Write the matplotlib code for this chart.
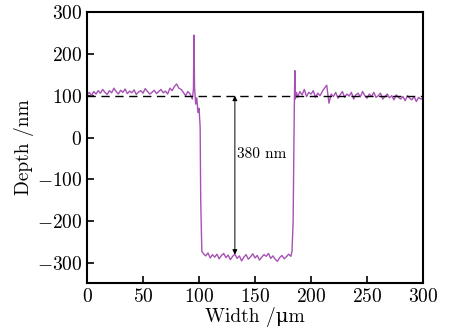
import numpy as np
import matplotlib.pyplot as plt

plt.rcParams['font.family'] = ['cmr10', 'DejaVu Serif']
plt.rcParams['mathtext.fontset'] = 'cm'
plt.rcParams['axes.formatter.use_mathtext'] = True

# left plateau, 0..92 um every 2 um
x_left = list(range(0, 93, 2))
y_left = [102, 108, 100, 110, 104, 112, 106, 115, 108, 103, 112, 107, 118, 110,
          104, 113, 108, 116, 105, 111, 107, 114, 103, 109, 112, 106, 117, 110,
          104, 108, 113, 105, 110, 115, 107, 111, 104, 118, 112, 122, 128, 118,
          115, 108, 100, 110, 104]

# first edge with the spike
x_edge1 = [93, 94, 95, 95.5, 96, 97, 98, 99, 100, 101, 101.5, 102.5]
y_edge1 = [98, 92, 115, 245, 120, 80, 95, 60, 70, 25, -150, -272]

# bottom of the groove
x_bottom = list(range(104, 183, 2))
y_bottom = [-278, -283, -276, -288, -280, -286, -279, -290, -282, -277, -287,
            -281, -292, -284, -279, -289, -283, -295, -286, -280, -291, -285,
            -278, -288, -282, -293, -286, -280, -284, -277, -289, -283, -291,
            -296, -287, -282, -290, -285, -279, -284]

# second edge with the spike
x_edge2 = [183, 184, 184.5, 185, 185.5, 186, 187]
y_edge2 = [-272, -200, -60, 60, 160, 92, 108]

# right plateau, 188..300 um every 2 um
x_right = list(range(188, 301, 2))
y_right = [96, 110, 102, 115, 98, 108, 104, 112, 96, 106, 100, 110, 118, 125,
           82, 104, 98, 108, 94, 102, 110, 96, 104, 99, 108, 92, 102, 106, 97,
           110, 100, 94, 104, 98, 108, 96, 100, 106, 92, 98, 104, 95, 100, 90,
           102, 96, 92, 98, 88, 100, 94, 90, 98, 86, 96, 92, 94]

width = np.array(x_left + x_edge1 + x_bottom + x_edge2 + x_right, dtype=float)
depth = np.array(y_left + y_edge1 + y_bottom + y_edge2 + y_right, dtype=float)

surface = 100
floor = -280
arrow_x = 132

fig = plt.figure(figsize=(4.52, 3.35), dpi=100)
ax = fig.add_axes([0.1925, 0.155, 0.7435, 0.809])

ax.plot(width, depth, color='#a652b4', linewidth=1.0)
ax.axhline(surface, color='black', linestyle=(0, (6, 4)), linewidth=1.0)
ax.annotate('', xy=(arrow_x, floor), xytext=(arrow_x, surface),
            arrowprops=dict(arrowstyle='<|-|>', color='black', lw=0.7,
                            mutation_scale=7, shrinkA=0, shrinkB=0))
ax.text(arrow_x + 2, -40, '380 nm', fontsize=11, va='center', ha='left')

ax.set_xlim(0, 300)
ax.set_ylim(-348, 300)
ax.set_xticks([0, 50, 100, 150, 200, 250, 300])
ax.set_yticks([-300, -200, -100, 0, 100, 200, 300])
ax.tick_params(direction='in', length=5, width=1.2, labelsize=14,
               top=False, right=False)
for s in ax.spines.values():
    s.set_linewidth(1.5)

ax.set_xlabel('Width /\u03bcm', fontsize=14, labelpad=1)
ax.set_ylabel('Depth /nm', fontsize=14, labelpad=2)

fig.savefig('out.png', dpi=100)
